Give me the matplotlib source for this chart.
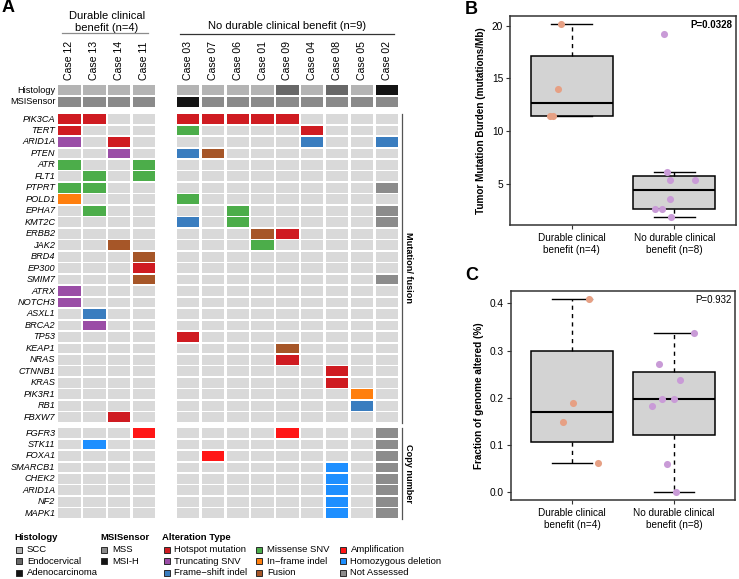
import matplotlib
matplotlib.use('Agg')
import matplotlib.pyplot as plt
from matplotlib.patches import Rectangle
import numpy as np

plt.rcParams['font.family'] = ['Liberation Sans', 'DejaVu Sans']

# ---------------- data: panel A ----------------
cases_durable = ['Case 12', 'Case 13', 'Case 14', 'Case 11']
cases_nodurable = ['Case 03', 'Case 07', 'Case 06', 'Case 01', 'Case 09',
                   'Case 04', 'Case 08', 'Case 05', 'Case 02']
cases = cases_durable + cases_nodurable

histology = ['SCC', 'SCC', 'SCC', 'SCC', 'SCC', 'SCC', 'SCC', 'SCC',
             'Endocervical', 'SCC', 'Endocervical', 'SCC', 'Adenocarcinoma']
msisensor = ['MSS', 'MSS', 'MSS', 'MSS', 'MSI-H', 'MSS', 'MSS', 'MSS',
             'MSS', 'MSS', 'MSS', 'MSS', 'MSS']

mutation_genes = ['PIK3CA', 'TERT', 'ARID1A', 'PTEN', 'ATR', 'FLT1', 'PTPRT',
                  'POLD1', 'EPHA7', 'KMT2C', 'ERBB2', 'JAK2', 'BRD4', 'EP300',
                  'SMIM7', 'ATRX', 'NOTCH3', 'ASXL1', 'BRCA2', 'TP53', 'KEAP1',
                  'NRAS', 'CTNNB1', 'KRAS', 'PIK3R1', 'RB1', 'FBXW7']
cn_genes = ['FGFR3', 'STK11', 'FOXA1', 'SMARCB1', 'CHEK2', 'ARID1A', 'NF2', 'MAPK1']

mutation_events = [
    ('PIK3CA', 'Case 12', 'Hotspot mutation'), ('PIK3CA', 'Case 13', 'Hotspot mutation'),
    ('PIK3CA', 'Case 03', 'Hotspot mutation'), ('PIK3CA', 'Case 07', 'Hotspot mutation'),
    ('PIK3CA', 'Case 06', 'Hotspot mutation'), ('PIK3CA', 'Case 01', 'Hotspot mutation'),
    ('PIK3CA', 'Case 09', 'Hotspot mutation'),
    ('TERT', 'Case 12', 'Hotspot mutation'), ('TERT', 'Case 03', 'Missense SNV'),
    ('TERT', 'Case 04', 'Hotspot mutation'),
    ('ARID1A', 'Case 12', 'Truncating SNV'), ('ARID1A', 'Case 14', 'Hotspot mutation'),
    ('ARID1A', 'Case 04', 'Frame-shift indel'), ('ARID1A', 'Case 02', 'Frame-shift indel'),
    ('PTEN', 'Case 14', 'Truncating SNV'), ('PTEN', 'Case 03', 'Frame-shift indel'),
    ('PTEN', 'Case 07', 'Fusion'),
    ('ATR', 'Case 12', 'Missense SNV'), ('ATR', 'Case 11', 'Missense SNV'),
    ('FLT1', 'Case 13', 'Missense SNV'), ('FLT1', 'Case 11', 'Missense SNV'),
    ('PTPRT', 'Case 12', 'Missense SNV'), ('PTPRT', 'Case 13', 'Missense SNV'),
    ('PTPRT', 'Case 02', 'Not Assessed'),
    ('POLD1', 'Case 12', 'In-frame indel'), ('POLD1', 'Case 03', 'Missense SNV'),
    ('EPHA7', 'Case 13', 'Missense SNV'), ('EPHA7', 'Case 06', 'Missense SNV'),
    ('EPHA7', 'Case 02', 'Not Assessed'),
    ('KMT2C', 'Case 03', 'Frame-shift indel'), ('KMT2C', 'Case 06', 'Missense SNV'),
    ('KMT2C', 'Case 02', 'Not Assessed'),
    ('ERBB2', 'Case 01', 'Fusion'), ('ERBB2', 'Case 09', 'Hotspot mutation'),
    ('JAK2', 'Case 14', 'Fusion'), ('JAK2', 'Case 01', 'Missense SNV'),
    ('BRD4', 'Case 11', 'Fusion'),
    ('EP300', 'Case 11', 'Hotspot mutation'),
    ('SMIM7', 'Case 11', 'Fusion'), ('SMIM7', 'Case 02', 'Not Assessed'),
    ('ATRX', 'Case 12', 'Truncating SNV'),
    ('NOTCH3', 'Case 12', 'Truncating SNV'),
    ('ASXL1', 'Case 13', 'Frame-shift indel'),
    ('BRCA2', 'Case 13', 'Truncating SNV'),
    ('TP53', 'Case 03', 'Hotspot mutation'),
    ('KEAP1', 'Case 09', 'Fusion'),
    ('NRAS', 'Case 09', 'Hotspot mutation'),
    ('CTNNB1', 'Case 08', 'Hotspot mutation'),
    ('KRAS', 'Case 08', 'Hotspot mutation'),
    ('PIK3R1', 'Case 05', 'In-frame indel'),
    ('RB1', 'Case 05', 'Frame-shift indel'),
    ('FBXW7', 'Case 14', 'Hotspot mutation'),
]
cn_events = [
    ('FGFR3', 'Case 11', 'Amplification'), ('FGFR3', 'Case 09', 'Amplification'),
    ('FGFR3', 'Case 02', 'Not Assessed'),
    ('STK11', 'Case 13', 'Homozygous deletion'), ('STK11', 'Case 02', 'Not Assessed'),
    ('FOXA1', 'Case 07', 'Amplification'), ('FOXA1', 'Case 02', 'Not Assessed'),
    ('SMARCB1', 'Case 08', 'Homozygous deletion'), ('SMARCB1', 'Case 02', 'Not Assessed'),
    ('CHEK2', 'Case 08', 'Homozygous deletion'), ('CHEK2', 'Case 02', 'Not Assessed'),
    ('ARID1A', 'Case 08', 'Homozygous deletion'), ('ARID1A', 'Case 02', 'Not Assessed'),
    ('NF2', 'Case 08', 'Homozygous deletion'), ('NF2', 'Case 02', 'Not Assessed'),
    ('MAPK1', 'Case 08', 'Homozygous deletion'), ('MAPK1', 'Case 02', 'Not Assessed'),
]

# ---------------- data: panels B and C ----------------
group_labels = ['Durable clinical\nbenefit (n=4)', 'No durable clinical\nbenefit (n=8)']
tmb_durable = [20.2, 14.0, 11.4, 11.4]
tmb_nodurable = [19.2, 6.1, 5.3, 5.3, 3.5, 2.6, 2.6, 1.8]
tmb_jit_durable = [0.90, 0.87, 0.79, 0.82]
tmb_jit_nodurable = [1.90, 1.93, 1.96, 2.20, 1.96, 1.81, 1.88, 1.97]
tmb_p = 'P=0.0328'

fga_durable = [0.41, 0.19, 0.148, 0.063]
fga_nodurable = [0.338, 0.271, 0.238, 0.197, 0.197, 0.182, 0.059, 0.0]
fga_jit_durable = [1.17, 1.01, 0.91, 1.25]
fga_jit_nodurable = [2.20, 1.85, 2.06, 1.88, 2.00, 1.78, 1.93, 2.02]
fga_p = 'P=0.932'

# ---------------- styles ----------------
alt_colors = {
    'Hotspot mutation': '#CF1B21', 'Truncating SNV': '#9A4DA6',
    'Frame-shift indel': '#3A7DBF', 'Missense SNV': '#4CAD4A',
    'In-frame indel': '#FF7F0E', 'Fusion': '#A65628',
    'Amplification': '#FF1616', 'Homozygous deletion': '#1E8FFF',
    'Not Assessed': '#8C8C8C',
}
hist_colors = {'SCC': '#B4B4B4', 'Endocervical': '#686868', 'Adenocarcinoma': '#141414'}
msi_colors = {'MSS': '#8A8A8A', 'MSI-H': '#141414'}
EMPTY = '#D9D9D9'

W, H = 739, 579
fig = plt.figure(figsize=(W / 100, H / 100), dpi=100)

# Panel A axes in pixel coordinates
axA = fig.add_axes([0, 0, 420 / W, 1])
axA.set_xlim(0, 420)
axA.set_ylim(H, 0)
axA.axis('off')

COL_PITCH = 24.85
col_x = {c: 69.5 + i * COL_PITCH for i, c in enumerate(cases_durable)}
col_x.update({c: 188.0 + j * COL_PITCH for j, c in enumerate(cases_nodurable)})
CW, CH = 22.4, 9.8
ROW_PITCH = 11.47
HIST_Y, MSI_Y = 90.2, 101.7
MUT_Y0, CN_Y0 = 119.0, 433.0
mut_y = {g: MUT_Y0 + i * ROW_PITCH for i, g in enumerate(mutation_genes)}
cn_y = [CN_Y0 + i * ROW_PITCH for i in range(len(cn_genes))]


def cell(x, y, color):
    axA.add_patch(Rectangle((x - CW / 2, y - CH / 2), CW, CH, facecolor=color,
                            edgecolor='none', lw=0))


for c, h, m in zip(cases, histology, msisensor):
    cell(col_x[c], HIST_Y, hist_colors[h])
    cell(col_x[c], MSI_Y, msi_colors[m])
for g in mutation_genes:
    for c in cases:
        cell(col_x[c], mut_y[g], EMPTY)
for y in cn_y:
    for c in cases:
        cell(col_x[c], y, EMPTY)
for g, c, t in mutation_events:
    cell(col_x[c], mut_y[g], alt_colors[t])
for g, c, t in cn_events:
    cell(col_x[c], cn_y[cn_genes.index(g)], alt_colors[t])

LBL_X = 55.5
fs_row = 6.6
axA.text(LBL_X, HIST_Y, 'Histology', ha='right', va='center', fontsize=fs_row)
axA.text(LBL_X, MSI_Y, 'MSISensor', ha='right', va='center', fontsize=fs_row)
for g in mutation_genes:
    axA.text(LBL_X, mut_y[g], g, ha='right', va='center', fontsize=fs_row, style='italic')
for g, y in zip(cn_genes, cn_y):
    axA.text(LBL_X, y, g, ha='right', va='center', fontsize=fs_row, style='italic')

for c in cases:
    axA.text(col_x[c], 80.5, c, rotation=90, ha='center', va='bottom', fontsize=7.6)

# group headers
axA.text((col_x['Case 12'] + col_x['Case 11']) / 2, 22, 'Durable clinical\nbenefit (n=4)',
         ha='center', va='center', fontsize=8, linespacing=1.2)
axA.plot([62, 148], [33, 33], color='#8C8C8C', lw=0.9)
axA.text((col_x['Case 03'] + col_x['Case 02']) / 2, 26, 'No durable clinical benefit (n=9)',
         ha='center', va='center', fontsize=8)
axA.plot([180, 394], [33.5, 33.5], color='#333333', lw=0.9)

# right brackets
axA.plot([402, 402], [114, 423], color='#555555', lw=0.9)
axA.plot([402, 402], [428, 519], color='#555555', lw=0.9)
axA.text(409, 268, 'Mutation/ fusion', rotation=270, ha='center', va='center',
         fontsize=6.6, fontweight='bold')
axA.text(409, 474, 'Copy number', rotation=270, ha='center', va='center',
         fontsize=6.6, fontweight='bold')

axA.text(2, 8, 'A', ha='left', va='center', fontsize=13, fontweight='bold')

# legend
fs_leg = 6.8
LEG_Y = [549.8, 561.2, 572.7]
TITLE_Y = 537.7


def leg_item(x, y, color, label):
    axA.add_patch(Rectangle((x, y - 3), 6.2, 6.2, facecolor=color, edgecolor='#2A2A2A', lw=0.7))
    axA.text(x + 11, y, label, ha='left', va='center', fontsize=fs_leg)


axA.text(14, TITLE_Y, 'Histology', ha='left', va='center', fontsize=fs_leg, fontweight='bold')
for y, k in zip(LEG_Y, ['SCC', 'Endocervical', 'Adenocarcinoma']):
    leg_item(16, y, hist_colors[k], k)
axA.text(100, TITLE_Y, 'MSISensor', ha='left', va='center', fontsize=fs_leg, fontweight='bold')
for y, k in zip(LEG_Y, ['MSS', 'MSI-H']):
    leg_item(101, y, msi_colors[k], k)
axA.text(162.5, TITLE_Y, 'Alteration Type', ha='left', va='center', fontsize=fs_leg,
         fontweight='bold')
alt_cols = [['Hotspot mutation', 'Truncating SNV', 'Frame-shift indel'],
            ['Missense SNV', 'In-frame indel', 'Fusion'],
            ['Amplification', 'Homozygous deletion', 'Not Assessed']]
for x0, col in zip([163.5, 256, 339.5], alt_cols):
    for y, k in zip(LEG_Y, col):
        leg_item(x0, y, alt_colors[k], k.replace('-', '\u2212'))


# ---------------- panels B, C ----------------
def tukey(vals, label):
    v = np.sort(np.asarray(vals, dtype=float))
    n = len(v)
    half = (n + 1) // 2
    q1 = np.median(v[:half])
    q3 = np.median(v[n - half:])
    iqr = q3 - q1
    return dict(med=np.median(v), q1=q1, q3=q3,
                whislo=v[v >= q1 - 1.5 * iqr].min(),
                whishi=v[v <= q3 + 1.5 * iqr].max(),
                fliers=[], label=label)


def boxpanel(rect, d1, d2, j1, j2, yticks, yfmt, ylabel, ptext, pbold):
    ax = fig.add_axes(rect)
    stats = [tukey(d1, group_labels[0]), tukey(d2, group_labels[1])]
    ax.bxp(stats, positions=[1, 2], widths=0.8, patch_artist=True, capwidths=0.4,
           boxprops=dict(facecolor='#D3D3D3', edgecolor='black', lw=1.1),
           whiskerprops=dict(color='black', lw=1.0, linestyle=(0, (3, 3))),
           capprops=dict(color='black', lw=1.0),
           medianprops=dict(color='black', lw=1.5))
    ax.scatter(j1, d1, s=26, color='#E6A084', zorder=5, linewidths=0)
    ax.scatter(j2, d2, s=26, color='#C99BD7', zorder=5, linewidths=0)
    allv = np.concatenate([d1, d2])
    r = allv.max() - allv.min()
    ax.set_ylim(allv.min() - 0.04 * r, allv.max() + 0.04 * r)
    ax.set_xlim(0.4, 2.6)
    ax.set_yticks(yticks)
    ax.set_yticklabels([yfmt.format(t) for t in yticks], fontsize=7.3)
    ax.set_xticks([1, 2])
    ax.set_xticklabels(group_labels, fontsize=7.2, linespacing=1.25)
    ax.tick_params(length=3, width=0.8, color='#333333', pad=2)
    ax.tick_params(axis='x', pad=2.5)
    for s in ax.spines.values():
        s.set_linewidth(1.1)
        s.set_color('#333333')
    ax.set_ylabel(ylabel, fontsize=7.2, fontweight='bold', labelpad=4)
    ax.text(0.985, 0.955, ptext, transform=ax.transAxes, ha='right', va='center',
            fontsize=7, fontweight='bold' if pbold else 'normal')
    return ax


boxpanel([510 / W, 1 - 225 / H, 226 / W, 209 / H], tmb_durable, tmb_nodurable,
         tmb_jit_durable, tmb_jit_nodurable, [5, 10, 15, 20], '{:d}',
         'Tumor Mutation Burden (mutations/Mb)', tmb_p, True)
boxpanel([511 / W, 1 - 500 / H, 224 / W, 209 / H], fga_durable, fga_nodurable,
         fga_jit_durable, fga_jit_nodurable, [0.0, 0.1, 0.2, 0.3, 0.4], '{:.1f}',
         'Fraction of genome altered (%)', fga_p, False)

fig.text(465 / W, 1 - 9 / H, 'B', ha='left', va='center', fontsize=13, fontweight='bold')
fig.text(465 / W, 1 - 275 / H, 'C', ha='left', va='center', fontsize=13, fontweight='bold')

fig.savefig('out.png', dpi=100)
